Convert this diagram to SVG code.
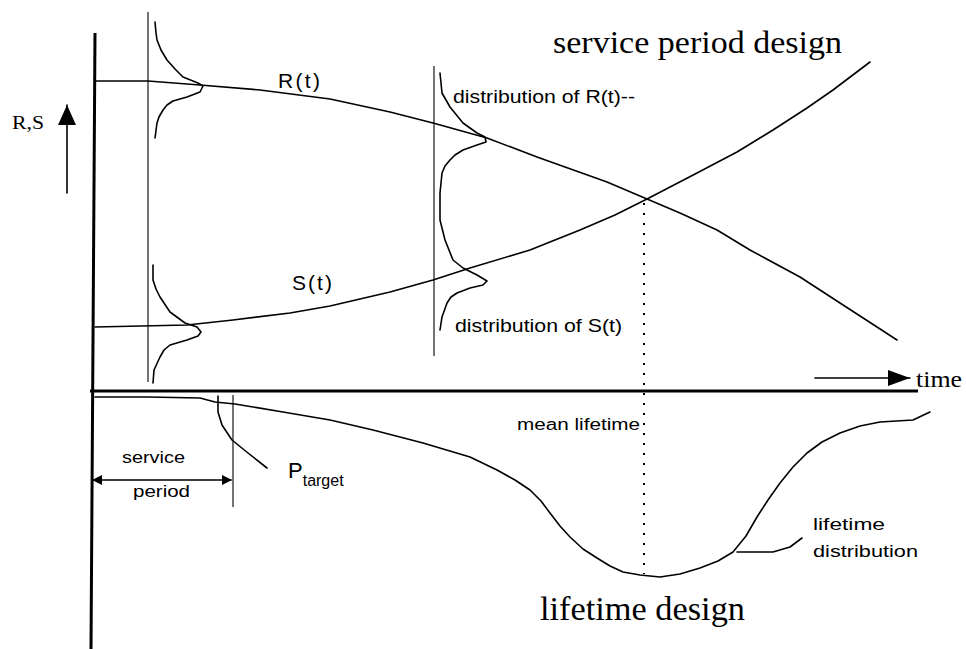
<svg xmlns="http://www.w3.org/2000/svg" width="966" height="649" viewBox="0 0 966 649">
<style>
.bg{fill:#fff}
.ln{fill:none;stroke:#000;stroke-width:1.6;stroke-linejoin:round;stroke-linecap:round}
.thin{fill:none;stroke:#000;stroke-width:1.1}
.axis{fill:none;stroke:#000;stroke-width:3}
.dot{fill:none;stroke:#000;stroke-width:2;stroke-dasharray:2 8}
.title{font-family:"Liberation Serif",serif;fill:#000}
.serif{font-family:"Liberation Serif",serif;fill:#000}
.lab{font-family:"Liberation Sans",sans-serif;fill:#000}
</style>
<defs>
<marker id="tri" viewBox="0 0 10 10" refX="9" refY="5" markerWidth="10" markerHeight="10" markerUnits="userSpaceOnUse" orient="auto-start-reverse"><path d="M0,0 L10,5 L0,10 z" fill="#000"/></marker>
<marker id="big" viewBox="0 0 10 10" refX="10" refY="5" markerWidth="22" markerHeight="16" markerUnits="userSpaceOnUse" orient="auto" preserveAspectRatio="none"><path d="M0,0 L10,5 L0,10 z" fill="#000"/></marker>
<marker id="up" viewBox="0 0 10 10" refX="10" refY="5" markerWidth="20" markerHeight="18" markerUnits="userSpaceOnUse" orient="auto" preserveAspectRatio="none"><path d="M0,0 L10,5 L0,10 z" fill="#000"/></marker>
</defs>
<rect class="bg" width="966" height="649"/>
<g id="axes">
<path class="axis" d="M95,33 L91,649"/>
<path class="axis" d="M90,391 L918,391"/>
<path class="ln" d="M67,193 L67,105" marker-end="url(#up)"/>
<path class="ln" d="M815,378 L910,378" marker-end="url(#big)"/>
<path class="thin" d="M148,12 L148,382"/>
<path class="thin" d="M434,66 L434,356"/>
<path class="thin" d="M233,395 L233,507"/>
<path class="dot" d="M644,203 L644,574"/>
</g>
<g id="curves">
<path id="R" class="ln" d="M95,81 L148,81 L200,85 L260,90 L330,99 L390,112 L433,123 L487,138 L537,157 L607,182 L647,199 L680,213 L717,230 L750,250 L800,277 L840,303 L877,327 L897,340"/>
<path id="S" class="ln" d="M95,327 L187,325 L233,320 L290,313 L330,306 L390,292 L433,280 L470,268 L530,250 L580,230 L615,215 L647,199 L697,173 L737,152 L773,130 L807,108 L833,90 L870,62"/>
<path id="Rdist1" class="ln" d="M155,22 L156,33 L157,40 L161,50 L167,60 L175,69 L183,77 L198,83 L203,86 L200,92 L187,97 L173,101 L167,105 L163,110 L159,117 L157,123 L155,138"/>
<path id="Sdist1" class="ln" d="M153,265 L153,280 L156,289 L160,297 L170,312 L185,323 L197,327 L201,332 L198,336 L187,340 L170,345 L164,350 L160,357 L154,370 L153,383"/>
<path id="dist2" class="ln" d="M440,73 L442,93 L450,107 L463,123 L477,133 L485,137 L486,142 L477,145 L463,150 L455,155 L450,160 L445,166 L442,173 L440,193 L440,220 L445,240 L453,260 L463,268 L477,275 L487,281 L483,285 L470,288 L457,293 L451,297 L447,303 L442,317 L440,330"/>
<path id="life" class="ln" d="M95,397 L148,397 L200,398 L215,402 L235,404 L283,412 L330,420 L373,430 L423,443 L470,457 L497,470 L515,480 L530,490 L541,501 L550,513 L560,526 L570,537 L583,549 L597,558 L610,566 L623,572 L640,575 L660,577 L680,574 L700,568 L718,561 L733,552 L746,536 L757,517 L768,500 L780,483 L793,467 L807,453 L822,442 L840,433 L860,426 L880,422 L913,420 L930,412"/>
<path id="ptarget" class="ln" d="M218,396 L218,412 L222,425 L232,440 L248,453 L267,468"/>
<path id="leader" class="ln" d="M737,552 L773,552 L790,547 L802,538"/>
<path id="svcarrow" class="ln" d="M93,480 L231,480" marker-start="url(#tri)" marker-end="url(#tri)"/>
</g>
<g id="labels">
<text class="title" x="553" y="53" font-size="31" textLength="289" lengthAdjust="spacingAndGlyphs">service period design</text>
<text class="title" x="540" y="620" font-size="33" textLength="205" lengthAdjust="spacingAndGlyphs">lifetime design</text>
<text class="serif" x="12" y="129" font-size="19" textLength="32" lengthAdjust="spacingAndGlyphs">R,S</text>
<text class="serif" x="916" y="387" font-size="23" textLength="46" lengthAdjust="spacingAndGlyphs">time</text>
<text class="lab" x="278" y="88" font-size="21" textLength="42" lengthAdjust="spacing">R(t)</text>
<text class="lab" x="292" y="290" font-size="21" textLength="40" lengthAdjust="spacing">S(t)</text>
<text class="lab" x="453" y="103" font-size="18" textLength="182" lengthAdjust="spacingAndGlyphs">distribution of R(t)--</text>
<text class="lab" x="455" y="332" font-size="18" textLength="167" lengthAdjust="spacingAndGlyphs">distribution of S(t)</text>
<text class="lab" x="517" y="430" font-size="16" textLength="123" lengthAdjust="spacingAndGlyphs">mean lifetime</text>
<text class="lab" x="122" y="463" font-size="17" textLength="63" lengthAdjust="spacingAndGlyphs">service</text>
<text class="lab" x="133" y="497" font-size="17" textLength="57" lengthAdjust="spacingAndGlyphs">period</text>
<text class="lab" x="288" y="478" font-size="22">P<tspan font-size="16" dy="8">target</tspan></text>
<text class="lab" x="813" y="530" font-size="17" textLength="72" lengthAdjust="spacingAndGlyphs">lifetime</text>
<text class="lab" x="813" y="557" font-size="17" textLength="105" lengthAdjust="spacingAndGlyphs">distribution</text>
</g>
</svg>
